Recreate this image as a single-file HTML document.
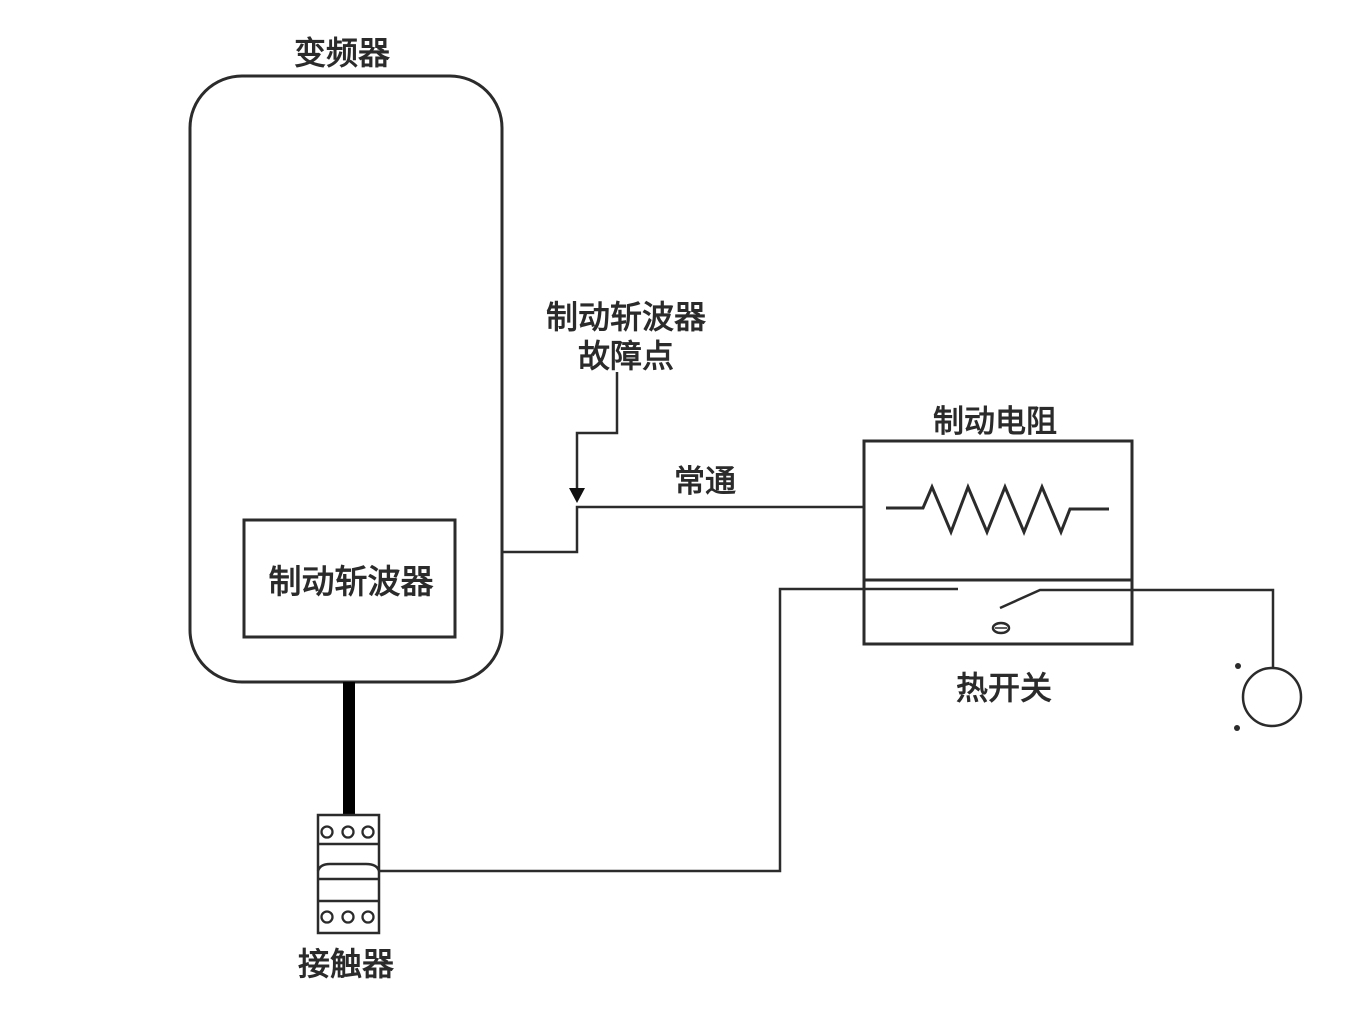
<!DOCTYPE html>
<html><head><meta charset="utf-8"><style>
html,body{margin:0;padding:0;background:#fff;}
svg{display:block;}
text{font-family:"Liberation Sans","Noto Sans CJK SC",sans-serif;fill:#2b2b2b;stroke:#2b2b2b;stroke-width:0.9;text-anchor:middle;}
</style></head><body>
<svg width="1350" height="1013" viewBox="0 0 1350 1013" xmlns="http://www.w3.org/2000/svg">
<rect width="1350" height="1013" fill="#fff"/>
<g fill="none" stroke="#2b2b2b" stroke-linejoin="miter">
<!-- inverter -->
<rect x="190" y="76" width="312" height="606" rx="52" ry="52" stroke-width="3"/>
<rect x="244" y="520" width="211" height="117" stroke-width="3"/>
<!-- thick cable -->
<line x1="349" y1="682" x2="349" y2="816" stroke="#000" stroke-width="12"/>
<!-- contactor -->
<rect x="318" y="815" width="61" height="118" stroke-width="2.5"/>
<line x1="318" y1="844" x2="379" y2="844" stroke-width="2.5"/>
<path d="M318 871 Q320 864 330 864 L366 864 Q377 864 379 871" stroke-width="2.5"/>
<line x1="318" y1="879" x2="379" y2="879" stroke-width="2.5"/>
<line x1="318" y1="901" x2="379" y2="901" stroke-width="2.5"/>
<circle cx="327" cy="832" r="5.5" stroke-width="2.3"/>
<circle cx="348" cy="832" r="5.5" stroke-width="2.3"/>
<circle cx="368" cy="832" r="5.5" stroke-width="2.3"/>
<circle cx="327" cy="917" r="5.5" stroke-width="2.3"/>
<circle cx="348" cy="917" r="5.5" stroke-width="2.3"/>
<circle cx="368" cy="917" r="5.5" stroke-width="2.3"/>
<!-- contactor to switch wire -->
<polyline points="379,871 780,871 780,589 958,589" stroke-width="2.5"/>
<!-- main wire -->
<polyline points="502,552 577,552 577,507 864,507" stroke-width="2.5"/>
<!-- fault arrow -->
<polyline points="617,372 617,433 577,433 577,492" stroke-width="2.5"/>
<!-- resistor box -->
<rect x="864" y="441" width="268" height="203" stroke-width="3"/>
<line x1="864" y1="580" x2="1132" y2="580" stroke-width="3"/>
<polyline points="886,508 923,508 932,487 951,532 968,487 987,532 1005,487 1024,532 1042,487 1061,532 1070,509 1109,509" stroke-width="3"/>
<!-- switch -->
<polyline points="1000,608 1040,590 1273,590 1273,668" stroke-width="2.5"/>
<circle cx="1272" cy="697" r="29" stroke-width="2.5"/>
<ellipse cx="1001" cy="628" rx="8" ry="5" stroke-width="2.5"/>
<line x1="995" y1="628" x2="1007" y2="628" stroke-width="1.5"/>
</g>
<polygon points="569,488 585,488 577,503" fill="#111"/>
<circle cx="1238" cy="666" r="3" fill="#2b2b2b"/>
<circle cx="1237" cy="728" r="3" fill="#2b2b2b"/>
<!-- labels -->
<text x="342" y="64" font-size="32">变频器</text>
<text x="351" y="593" font-size="33">制动斩波器</text>
<text x="626" y="328" font-size="32">制动斩波器</text>
<text x="626" y="367" font-size="32">故障点</text>
<text x="705" y="492" font-size="31">常通</text>
<text x="995" y="432" font-size="31">制动电阻</text>
<text x="1004" y="699" font-size="32">热开关</text>
<text x="346" y="975" font-size="32">接触器</text>
</svg>
</body></html>
